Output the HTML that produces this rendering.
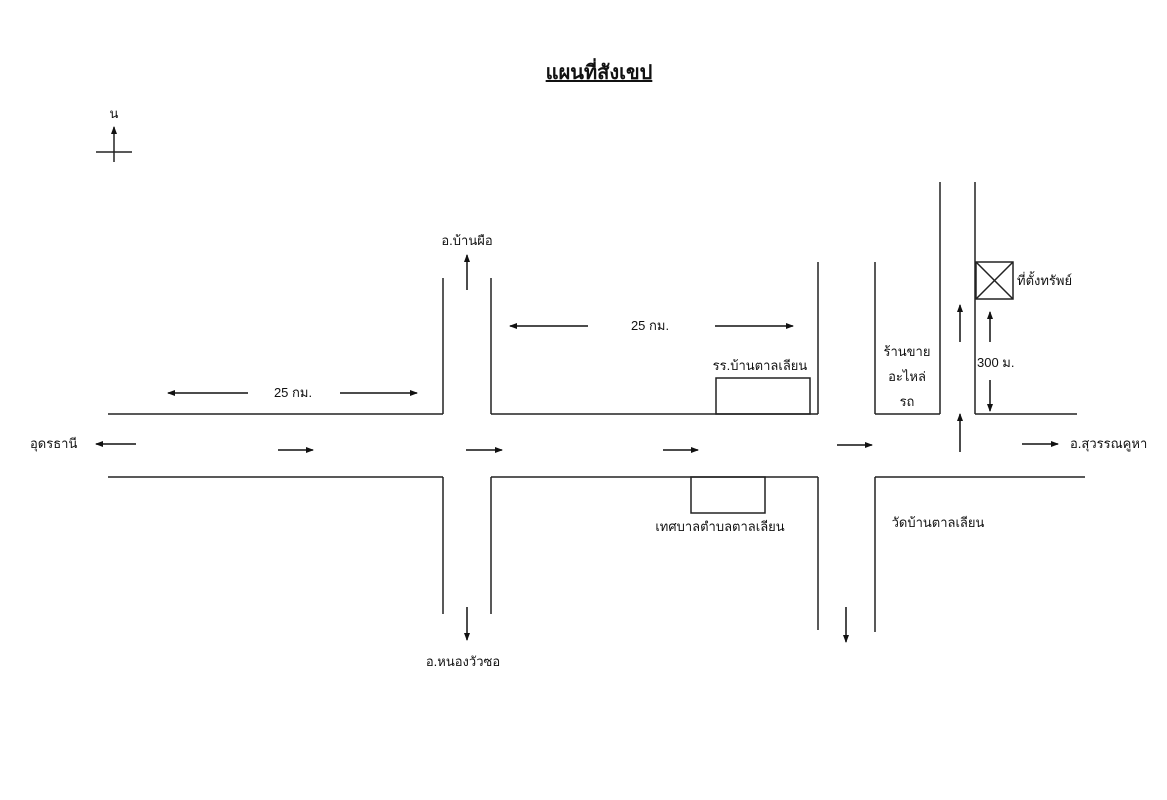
<!DOCTYPE html>
<html><head><meta charset="utf-8"><style>
html,body{margin:0;padding:0;background:#fff;}
svg{display:block}
text{font-family:"Liberation Sans","Noto Sans CJK SC",sans-serif;fill:#111;font-size:13px}
</style></head><body>
<svg width="1167" height="800" viewBox="0 0 1167 800" xmlns="http://www.w3.org/2000/svg">
<defs><marker id="a" markerWidth="8" markerHeight="8" refX="7" refY="4" orient="auto" markerUnits="userSpaceOnUse"><path d="M0,1 L8,4 L0,7 z" fill="#111"/></marker></defs>
<g stroke="#222" stroke-width="1.5" fill="none">
<line x1="108" y1="414" x2="443" y2="414"/><line x1="443" y1="414" x2="443" y2="278"/>
<line x1="491" y1="278" x2="491" y2="414"/><line x1="491" y1="414" x2="818" y2="414"/><line x1="818" y1="414" x2="818" y2="262"/>
<line x1="875" y1="262" x2="875" y2="414"/><line x1="875" y1="414" x2="940" y2="414"/><line x1="940" y1="414" x2="940" y2="182"/>
<line x1="975" y1="182" x2="975" y2="414"/><line x1="975" y1="414" x2="1077" y2="414"/>
<line x1="108" y1="477" x2="443" y2="477"/><line x1="443" y1="477" x2="443" y2="614"/>
<line x1="491" y1="614" x2="491" y2="477"/><line x1="491" y1="477" x2="818" y2="477"/><line x1="818" y1="477" x2="818" y2="630"/>
<line x1="875" y1="632" x2="875" y2="477"/><line x1="875" y1="477" x2="1085" y2="477"/>
<rect x="716" y="378" width="94" height="36"/><rect x="691" y="477" width="74" height="36"/>
<rect x="976" y="262" width="37" height="37"/><line x1="976" y1="262" x2="1013" y2="299"/><line x1="1013" y1="262" x2="976" y2="299"/>
<line x1="96" y1="152" x2="132" y2="152"/><line x1="114" y1="162" x2="114" y2="127" marker-end="url(#a)"/>
</g>
<g stroke="#111" stroke-width="1.5" marker-end="url(#a)">
<line x1="136" y1="444" x2="96" y2="444"/>
<line x1="278" y1="450" x2="313" y2="450"/>
<line x1="466" y1="450" x2="502" y2="450"/>
<line x1="663" y1="450" x2="698" y2="450"/>
<line x1="837" y1="445" x2="872" y2="445"/>
<line x1="1022" y1="444" x2="1058" y2="444"/>
<line x1="960" y1="452" x2="960" y2="414"/>
<line x1="960" y1="342" x2="960" y2="305"/>
<line x1="990" y1="342" x2="990" y2="312"/>
<line x1="990" y1="380" x2="990" y2="411"/>
<line x1="467" y1="290" x2="467" y2="255"/>
<line x1="467" y1="607" x2="467" y2="640"/>
<line x1="846" y1="607" x2="846" y2="642"/>
<line x1="248" y1="393" x2="168" y2="393"/>
<line x1="340" y1="393" x2="417" y2="393"/>
<line x1="588" y1="326" x2="510" y2="326"/>
<line x1="715" y1="326" x2="793" y2="326"/>
</g>
<text x="599" y="79" text-anchor="middle" style="font-size:20px;font-weight:bold;text-decoration:underline">แผนที่สังเขป</text>
<text x="114" y="118" text-anchor="middle">น</text>
<text x="467" y="245" text-anchor="middle">อ.บ้านผือ</text>
<text x="293" y="397" text-anchor="middle">25 กม.</text>
<text x="650" y="330" text-anchor="middle">25 กม.</text>
<text x="760" y="370" text-anchor="middle">รร.บ้านตาลเลียน</text>
<text x="30" y="448">อุดรธานี</text>
<text x="1070" y="448">อ.สุวรรณคูหา</text>
<text x="1017" y="285">ที่ตั้งทรัพย์</text>
<text x="977" y="367">300 ม.</text>
<text x="907" y="356" text-anchor="middle">ร้านขาย</text>
<text x="907" y="381" text-anchor="middle">อะไหล่</text>
<text x="907" y="406" text-anchor="middle">รถ</text>
<text x="720" y="531" text-anchor="middle">เทศบาลตำบลตาลเลียน</text>
<text x="938" y="527" text-anchor="middle">วัดบ้านตาลเลียน</text>
<text x="463" y="666" text-anchor="middle">อ.หนองวัวซอ</text>
</svg>
</body></html>
